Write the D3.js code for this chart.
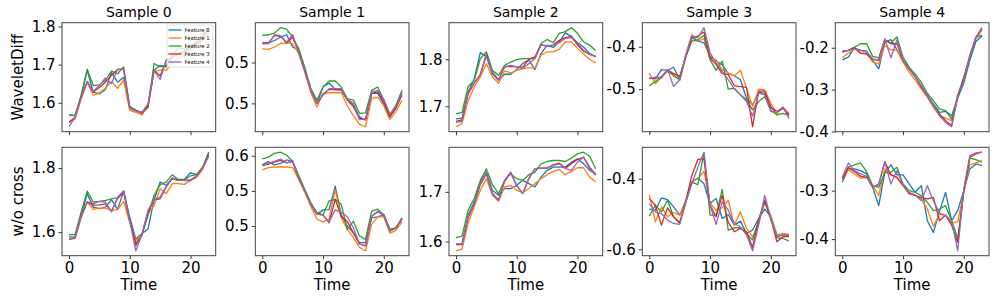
<!DOCTYPE html>
<html>
<head>
<meta charset="utf-8">
<script src="https://cdn.jsdelivr.net/npm/d3@7"></script>
<style>
  body { margin: 0; background: #fff; }
  svg { display: block; font-family: "DejaVu Sans", sans-serif; }
</style>
</head>
<body>
<div id="chart"></div>
<script>
const width = 997;
const height = 299;

const rowNames = ['WaveletDiff', 'w/o cross'];
const sampleNames = ['Sample 0', 'Sample 1', 'Sample 2', 'Sample 3', 'Sample 4'];
const featureNames = ['Feature 0', 'Feature 1', 'Feature 2', 'Feature 3', 'Feature 4'];
const timeTicks = [0, 10, 20];

// y tick values and the labels matplotlib printed for them (one decimal)
const yTicks = [
  [[1.6, 1.7, 1.8], [0.45, 0.5], [1.7, 1.8], [-0.5, -0.4], [-0.4, -0.3, -0.2]],
  [[1.6, 1.8], [0.5, 0.55, 0.6], [1.6, 1.7], [-0.6, -0.4], [-0.4, -0.3]]
];
const yTickLabels = [
  [['1.6', '1.7', '1.8'], ['0.5', '0.5'], ['1.7', '1.8'], ['-0.5', '-0.4'], ['-0.4', '-0.3', '-0.2']],
  [['1.6', '1.8'], ['0.5', '0.5', '0.6'], ['1.6', '1.7'], ['-0.6', '-0.4'], ['-0.4', '-0.3']]
];

// WaveletDiff, one array per feature (0..4), 24 time steps
const wd0 = [
  [1.568, 1.566, 1.615, 1.685, 1.628, 1.623, 1.635, 1.679, 1.654, 1.667, 1.59, 1.58, 1.575, 1.588, 1.685, 1.698, 1.694, 1.72, 1.73, 1.735, 1.745, 1.76, 1.775, 1.797],
  [1.55, 1.557, 1.61, 1.654, 1.619, 1.626, 1.638, 1.656, 1.638, 1.659, 1.58, 1.575, 1.568, 1.592, 1.681, 1.686, 1.685, 1.705, 1.715, 1.725, 1.735, 1.75, 1.765, 1.78],
  [1.569, 1.566, 1.62, 1.688, 1.645, 1.647, 1.659, 1.683, 1.676, 1.694, 1.59, 1.58, 1.574, 1.588, 1.703, 1.694, 1.698, 1.725, 1.745, 1.74, 1.75, 1.76, 1.78, 1.795],
  [1.548, 1.562, 1.615, 1.656, 1.628, 1.64, 1.654, 1.672, 1.687, 1.688, 1.585, 1.58, 1.572, 1.592, 1.685, 1.67, 1.711, 1.72, 1.728, 1.735, 1.742, 1.755, 1.77, 1.79],
  [1.537, 1.562, 1.612, 1.656, 1.63, 1.645, 1.665, 1.65, 1.688, 1.688, 1.585, 1.578, 1.575, 1.597, 1.685, 1.661, 1.711, 1.72, 1.728, 1.735, 1.742, 1.758, 1.772, 1.79]
];
const wd1 = [
  [0.524, 0.524, 0.527, 0.531, 0.534, 0.519, 0.515, 0.49, 0.466, 0.45, 0.47, 0.475, 0.467, 0.467, 0.454, 0.448, 0.4336, 0.4296, 0.4622, 0.4622, 0.449, 0.433, 0.445, 0.46],
  [0.5166, 0.516, 0.519, 0.5233, 0.524, 0.523, 0.511, 0.488, 0.463, 0.4455, 0.4622, 0.463, 0.463, 0.463, 0.4468, 0.435, 0.4246, 0.4214, 0.456, 0.4573, 0.4468, 0.43, 0.44, 0.454],
  [0.5333, 0.534, 0.536, 0.5427, 0.541, 0.531, 0.517, 0.494, 0.468, 0.454, 0.47, 0.4776, 0.4774, 0.47, 0.4557, 0.454, 0.4377, 0.4385, 0.466, 0.47, 0.454, 0.436, 0.448, 0.466],
  [0.524, 0.524, 0.533, 0.532, 0.524, 0.531, 0.513, 0.49, 0.466, 0.45, 0.4615, 0.467, 0.467, 0.4664, 0.4541, 0.446, 0.4316, 0.43, 0.4622, 0.464, 0.452, 0.434, 0.444, 0.462],
  [0.523, 0.523, 0.534, 0.533, 0.525, 0.534, 0.512, 0.49, 0.466, 0.45, 0.46, 0.468, 0.468, 0.468, 0.455, 0.45, 0.43, 0.431, 0.464, 0.466, 0.455, 0.437, 0.446, 0.464]
];
const wd2 = [
  [1.673, 1.675, 1.73, 1.758, 1.814, 1.805, 1.769, 1.755, 1.768, 1.768, 1.778, 1.791, 1.798, 1.778, 1.812, 1.83, 1.825, 1.837, 1.856, 1.848, 1.835, 1.826, 1.812, 1.805],
  [1.6565, 1.6637, 1.712, 1.741, 1.762, 1.791, 1.762, 1.749, 1.775, 1.771, 1.776, 1.78, 1.7814, 1.7814, 1.8086, 1.8157, 1.8157, 1.8207, 1.837, 1.837, 1.823, 1.811, 1.8, 1.792],
  [1.6837, 1.6872, 1.742, 1.755, 1.801, 1.8157, 1.7764, 1.7657, 1.787, 1.794, 1.799, 1.8014, 1.8014, 1.8014, 1.8335, 1.842, 1.835, 1.855, 1.8585, 1.867, 1.855, 1.837, 1.83, 1.818],
  [1.668, 1.671, 1.726, 1.749, 1.768, 1.811, 1.771, 1.7565, 1.7836, 1.785, 1.7836, 1.783, 1.8, 1.805, 1.831, 1.828, 1.83, 1.84, 1.846, 1.849, 1.83, 1.817, 1.81, 1.806],
  [1.666, 1.668, 1.73, 1.749, 1.766, 1.8086, 1.773, 1.7565, 1.7836, 1.787, 1.7836, 1.78, 1.791, 1.8014, 1.83, 1.828, 1.83, 1.835, 1.844, 1.846, 1.8335, 1.819, 1.81, 1.806]
];
const wd3 = [
  [-0.4738, -0.476, -0.454, -0.4555, -0.4484, -0.4778, -0.422, -0.3786, -0.3865, -0.3905, -0.4222, -0.4341, -0.442, -0.4635, -0.4683, -0.4778, -0.5214, -0.5373, -0.508, -0.5095, -0.5413, -0.5571, -0.5429, -0.56],
  [-0.462, -0.4873, -0.4714, -0.454, -0.4698, -0.476, -0.42, -0.3706, -0.3865, -0.381, -0.4262, -0.4317, -0.454, -0.462, -0.4683, -0.4556, -0.4976, -0.5413, -0.5, -0.5016, -0.5333, -0.5571, -0.545, -0.5571],
  [-0.492, -0.4817, -0.4714, -0.458, -0.4659, -0.4794, -0.425, -0.3865, -0.384, -0.373, -0.4302, -0.4556, -0.4341, -0.5, -0.4976, -0.5135, -0.5254, -0.5492, -0.5294, -0.5175, -0.5492, -0.5611, -0.5571, -0.562],
  [-0.4738, -0.474, -0.4714, -0.4555, -0.4635, -0.47, -0.423, -0.3786, -0.3746, -0.365, -0.4262, -0.442, -0.4635, -0.4659, -0.492, -0.494, -0.496, -0.5889, -0.5048, -0.5048, -0.5433, -0.5531, -0.545, -0.562],
  [-0.476, -0.4714, -0.4738, -0.454, -0.4937, -0.4778, -0.42, -0.3746, -0.3786, -0.3548, -0.4143, -0.438, -0.458, -0.4778, -0.5, -0.5135, -0.5294, -0.5635, -0.5095, -0.5135, -0.5532, -0.5531, -0.5429, -0.569]
];
const wd4 = [
  [-0.2288, -0.2224, -0.2, -0.2064, -0.208, -0.2304, -0.2504, -0.1864, -0.1808, -0.2048, -0.2304, -0.2504, -0.2687, -0.2903, -0.3143, -0.3343, -0.3543, -0.352, -0.3623, -0.32, -0.285, -0.23, -0.185, -0.172],
  [-0.224, -0.2128, -0.2024, -0.2128, -0.2144, -0.2344, -0.2384, -0.1944, -0.2048, -0.2064, -0.2344, -0.2584, -0.277, -0.2983, -0.3183, -0.3423, -0.3623, -0.3679, -0.3743, -0.312, -0.275, -0.222, -0.178, -0.158],
  [-0.208, -0.2064, -0.1984, -0.1904, -0.1904, -0.2208, -0.224, -0.1808, -0.1888, -0.1744, -0.2224, -0.2464, -0.263, -0.2823, -0.3087, -0.3263, -0.3463, -0.3503, -0.3703, -0.315, -0.27, -0.225, -0.175, -0.17],
  [-0.2104, -0.2064, -0.2, -0.2128, -0.2144, -0.228, -0.2304, -0.1808, -0.1904, -0.1904, -0.2304, -0.2504, -0.2687, -0.2943, -0.3143, -0.3383, -0.3583, -0.3743, -0.3863, -0.318, -0.272, -0.218, -0.175, -0.152],
  [-0.208, -0.2064, -0.2024, -0.2064, -0.2104, -0.2264, -0.2296, -0.1784, -0.224, -0.1808, -0.2304, -0.2504, -0.2687, -0.2903, -0.3143, -0.3383, -0.3623, -0.3783, -0.3887, -0.314, -0.278, -0.218, -0.176, -0.1544]
];

// w/o cross
const wo0 = [
  [1.586, 1.584, 1.65, 1.72, 1.678, 1.673, 1.678, 1.701, 1.671, 1.728, 1.647, 1.579, 1.595, 1.61, 1.7, 1.756, 1.746, 1.767, 1.761, 1.764, 1.785, 1.779, 1.8, 1.849],
  [1.578, 1.581, 1.645, 1.694, 1.671, 1.675, 1.675, 1.668, 1.67, 1.696, 1.63, 1.574, 1.59, 1.657, 1.683, 1.735, 1.72, 1.751, 1.751, 1.749, 1.761, 1.77, 1.795, 1.845],
  [1.592, 1.592, 1.662, 1.728, 1.694, 1.696, 1.699, 1.704, 1.707, 1.728, 1.636, 1.558, 1.592, 1.652, 1.715, 1.748, 1.756, 1.779, 1.764, 1.764, 1.775, 1.779, 1.803, 1.848],
  [1.577, 1.582, 1.65, 1.694, 1.684, 1.685, 1.688, 1.665, 1.705, 1.725, 1.636, 1.564, 1.59, 1.662, 1.701, 1.704, 1.741, 1.767, 1.762, 1.762, 1.762, 1.775, 1.8, 1.84],
  [1.577, 1.584, 1.648, 1.694, 1.689, 1.696, 1.694, 1.663, 1.709, 1.728, 1.636, 1.542, 1.592, 1.668, 1.701, 1.709, 1.741, 1.769, 1.762, 1.761, 1.761, 1.775, 1.8, 1.837]
];
const wo1 = [
  [0.587, 0.5916, 0.587, 0.589, 0.594, 0.5917, 0.568, 0.55, 0.531, 0.517, 0.523, 0.5235, 0.5567, 0.5164, 0.4999, 0.4906, 0.4766, 0.4766, 0.5118, 0.513, 0.516, 0.493, 0.497, 0.51],
  [0.58, 0.583, 0.584, 0.584, 0.584, 0.583, 0.566, 0.548, 0.528, 0.51, 0.506, 0.51, 0.552, 0.5117, 0.4952, 0.4836, 0.4696, 0.4649, 0.5025, 0.513, 0.513, 0.49, 0.494, 0.506],
  [0.5954, 0.598, 0.6034, 0.605, 0.601, 0.5917, 0.572, 0.552, 0.533, 0.519, 0.516, 0.5358, 0.538, 0.531, 0.4952, 0.507, 0.486, 0.481, 0.5212, 0.524, 0.516, 0.496, 0.497, 0.512],
  [0.586, 0.588, 0.591, 0.5935, 0.59, 0.5917, 0.568, 0.55, 0.531, 0.517, 0.516, 0.5045, 0.538, 0.514, 0.5063, 0.4906, 0.4743, 0.4719, 0.514, 0.52, 0.516, 0.493, 0.498, 0.51],
  [0.586, 0.589, 0.592, 0.5954, 0.59, 0.5932, 0.568, 0.55, 0.531, 0.517, 0.5156, 0.506, 0.523, 0.5195, 0.5132, 0.4977, 0.4743, 0.472, 0.514, 0.5212, 0.516, 0.493, 0.498, 0.51]
];
const wo2 = [
  [1.5947, 1.5947, 1.653, 1.68, 1.7187, 1.74, 1.7033, 1.6933, 1.7067, 1.7067, 1.7133, 1.7233, 1.7167, 1.71, 1.73, 1.7433, 1.75, 1.75, 1.75, 1.76, 1.7667, 1.7567, 1.7433, 1.7367],
  [1.5813, 1.5847, 1.6367, 1.67, 1.7033, 1.7267, 1.6933, 1.6813, 1.71, 1.7133, 1.7033, 1.6987, 1.7067, 1.7167, 1.7267, 1.7347, 1.7413, 1.7453, 1.7347, 1.7413, 1.7487, 1.7487, 1.73, 1.72],
  [1.608, 1.611, 1.6633, 1.6867, 1.7233, 1.7467, 1.7147, 1.6967, 1.7233, 1.7367, 1.7267, 1.7233, 1.7347, 1.74, 1.7567, 1.7613, 1.7633, 1.7633, 1.7613, 1.768, 1.7767, 1.78, 1.772, 1.7467],
  [1.5947, 1.5947, 1.648, 1.6753, 1.7147, 1.7367, 1.6967, 1.6833, 1.7213, 1.7387, 1.712, 1.6967, 1.728, 1.7467, 1.748, 1.748, 1.7547, 1.758, 1.748, 1.7567, 1.7653, 1.77, 1.75, 1.7347],
  [1.5933, 1.5933, 1.65, 1.6767, 1.7167, 1.7387, 1.6967, 1.6833, 1.7233, 1.74, 1.7133, 1.6967, 1.7267, 1.7467, 1.748, 1.748, 1.7533, 1.7567, 1.7467, 1.7433, 1.76, 1.77, 1.7467, 1.7333]
];
const wo3 = [
  [-0.4864, -0.4892, -0.4545, -0.4592, -0.4798, -0.5033, -0.4657, -0.4094, -0.3981, -0.4141, -0.4704, -0.4563, -0.5127, -0.5014, -0.5315, -0.5202, -0.5549, -0.5455, -0.5127, -0.4864, -0.508, -0.5596, -0.5596, -0.5577],
  [-0.4451, -0.5221, -0.4798, -0.508, -0.4958, -0.5033, -0.46, -0.4094, -0.4, -0.3784, -0.4704, -0.4892, -0.4826, -0.461, -0.5315, -0.4939, -0.5408, -0.5643, -0.5268, -0.4657, -0.5033, -0.5596, -0.5549, -0.5577],
  [-0.5061, -0.4751, -0.4939, -0.461, -0.508, -0.5268, -0.468, -0.4094, -0.4169, -0.3268, -0.5033, -0.5033, -0.43, -0.5455, -0.539, -0.539, -0.5549, -0.5737, -0.5174, -0.4657, -0.5127, -0.5671, -0.569, -0.5765],
  [-0.4563, -0.4751, -0.5315, -0.4826, -0.508, -0.524, -0.465, -0.3906, -0.3455, -0.3437, -0.4751, -0.508, -0.447, -0.524, -0.5502, -0.5408, -0.5502, -0.5948, -0.5174, -0.461, -0.5127, -0.5784, -0.5643, -0.5643],
  [-0.4704, -0.4939, -0.4986, -0.5174, -0.5268, -0.5296, -0.466, -0.4141, -0.3671, -0.3249, -0.4751, -0.5296, -0.4657, -0.4892, -0.5268, -0.5362, -0.5596, -0.6042, -0.5315, -0.447, -0.5127, -0.5643, -0.5596, -0.5615]
];
const wo4 = [
  [-0.2828, -0.2552, -0.2552, -0.2586, -0.2655, -0.2931, -0.331, -0.2621, -0.2469, -0.2676, -0.2676, -0.2862, -0.3034, -0.2897, -0.3621, -0.3862, -0.3434, -0.3034, -0.3621, -0.3414, -0.3, -0.2552, -0.2448, -0.2483],
  [-0.2772, -0.2566, -0.2655, -0.2745, -0.2724, -0.2883, -0.3103, -0.2552, -0.2676, -0.2724, -0.2897, -0.3069, -0.309, -0.3172, -0.3379, -0.3738, -0.3483, -0.3517, -0.3669, -0.3641, -0.3034, -0.2469, -0.2428, -0.2379],
  [-0.2745, -0.2517, -0.2469, -0.2428, -0.2607, -0.2897, -0.2931, -0.2634, -0.2621, -0.2517, -0.2862, -0.3, -0.3034, -0.3103, -0.3241, -0.3414, -0.3379, -0.331, -0.3621, -0.3986, -0.3034, -0.2331, -0.2359, -0.2414],
  [-0.2759, -0.2517, -0.2607, -0.2703, -0.2724, -0.2931, -0.2862, -0.24, -0.2676, -0.2724, -0.2897, -0.3048, -0.3103, -0.3138, -0.3172, -0.3138, -0.3621, -0.3503, -0.371, -0.4069, -0.3, -0.231, -0.2241, -0.2207],
  [-0.2724, -0.2428, -0.2586, -0.2655, -0.2703, -0.2931, -0.2883, -0.24, -0.2862, -0.2586, -0.2883, -0.3034, -0.309, -0.3207, -0.2897, -0.3207, -0.3462, -0.3517, -0.3621, -0.4241, -0.2966, -0.2276, -0.2221, -0.2207]
];

const panels = [[wd0, wd1, wd2, wd3, wd4], [wo0, wo1, wo2, wo3, wo4]];

const colors = ['#1f77b4', '#ff7f0e', '#2ca02c', '#d62728', '#9467bd'];

// layout
const lefts = [62, 255.3, 449, 642.3, 835.3];
const tops = [22.7, 147.3];
const pw = 153.7;
const phs = [109, 108.4];

const svg = d3.select('#chart').append('svg')
  .attr('width', width)
  .attr('height', height);

rowNames.forEach((rowName, r) => {
  const ph = phs[r];
  sampleNames.forEach((sample, c) => {
    const series = panels[r][c];
    const g = svg.append('g')
      .attr('transform', 'translate(' + lefts[c] + ',' + tops[r] + ')');

    const x = d3.scaleLinear()
      .domain([-1.15, 24.15])
      .range([0, pw]);

    // matplotlib style 5% margins around data
    const ext = d3.extent(series.flat());
    const pad = (ext[1] - ext[0]) * 0.05;
    const y = d3.scaleLinear()
      .domain([ext[0] - pad, ext[1] + pad])
      .range([ph, 0]);

    const line = d3.line()
      .x((d, i) => x(i))
      .y(d => y(d));

    series.forEach((vals, f) => {
      g.append('path')
        .datum(vals)
        .attr('d', line)
        .attr('fill', 'none')
        .attr('stroke', colors[f])
        .attr('stroke-width', 1.3)
        .attr('stroke-linejoin', 'round');
    });

    // x axis
    const xaxis = d3.axisBottom(x)
      .tickValues(timeTicks)
      .tickSize(3.5)
      .tickPadding(3)
      .tickFormat(r === 1 ? d3.format('d') : () => '');
    const gx = g.append('g')
      .attr('transform', 'translate(0,' + ph + ')')
      .call(xaxis);

    // y axis
    const labels = yTickLabels[r][c];
    const yaxis = d3.axisLeft(y)
      .tickValues(yTicks[r][c])
      .tickSize(3.5)
      .tickPadding(3)
      .tickFormat((d, i) => labels[i]);
    const gy = g.append('g').call(yaxis);

    [gx, gy].forEach(a => {
      a.select('.domain').remove();
      a.selectAll('line').attr('stroke', '#222').attr('stroke-width', 0.9);
      a.selectAll('text')
        .attr('fill', '#000')
        .style('font-family', '"DejaVu Sans", sans-serif')
        .style('font-size', '15px');
    });

    // frame
    g.append('rect')
      .attr('width', pw)
      .attr('height', ph)
      .attr('fill', 'none')
      .attr('stroke', '#444')
      .attr('stroke-width', 1);

    if (r === 0) {
      g.append('text')
        .attr('x', pw / 2)
        .attr('y', -6)
        .attr('text-anchor', 'middle')
        .style('font-size', '14px')
        .text(sample);
    }
    if (r === 1) {
      g.append('text')
        .attr('x', pw / 2)
        .attr('y', ph + 34.5)
        .attr('text-anchor', 'middle')
        .style('font-size', '15px')
        .text('Time');
    }

    // legend only in first panel
    if (r === 0 && c === 0) {
      const lg = g.append('g').attr('transform', 'translate(105,2.3)');
      lg.append('rect')
        .attr('width', 46)
        .attr('height', 42)
        .attr('rx', 1.5)
        .attr('fill', '#fff')
        .attr('fill-opacity', 0.8)
        .attr('stroke', '#d0d0d0')
        .attr('stroke-width', 0.6);
      featureNames.forEach((name, f) => {
        const yy = 5 + f * 8;
        lg.append('line')
          .attr('x1', 1.5).attr('x2', 14.5)
          .attr('y1', yy).attr('y2', yy)
          .attr('stroke', colors[f])
          .attr('stroke-width', 1.3);
        lg.append('text')
          .attr('x', 17.5)
          .attr('y', yy)
          .attr('dy', '0.35em')
          .style('font-size', '5.3px')
          .text(name);
      });
    }
  });

  // row label
  const cy = tops[r] + ph / 2;
  svg.append('text')
    .attr('transform', 'translate(18,' + cy + ') rotate(-90)')
    .attr('text-anchor', 'middle')
    .attr('dy', '0.35em')
    .style('font-size', '15px')
    .text(rowName);
});
</script>
</body>
</html>
